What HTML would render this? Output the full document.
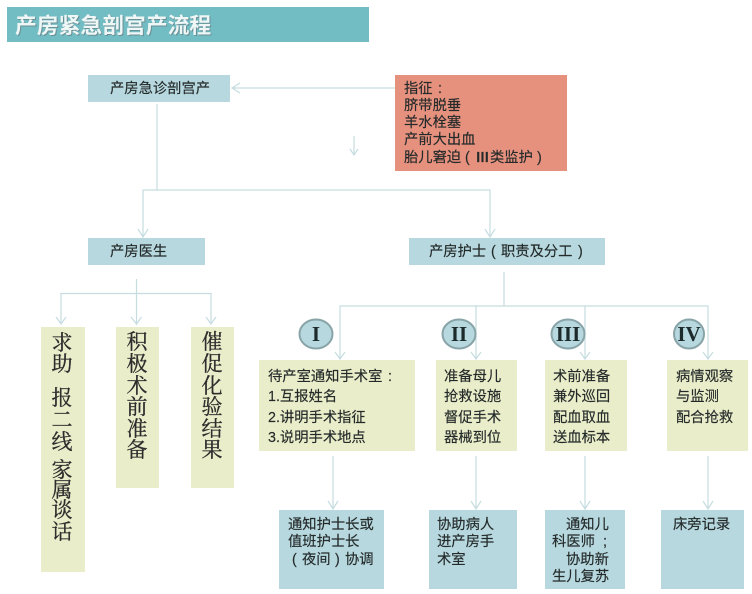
<!DOCTYPE html>
<html lang="zh"><head><meta charset="utf-8"><style>
html,body{margin:0;padding:0;background:#fff}
svg{display:block}
text{font-family:"Liberation Sans","Noto Sans CJK SC",sans-serif;font-size:14.3px;fill:#242a2a;stroke:#242a2a;stroke-width:.15}
.v text{font-family:"Liberation Serif","Noto Serif CJK SC",serif;font-size:21px;text-anchor:middle;fill:#2c2c2c;stroke:#2c2c2c;stroke-width:.3}
text.r{font-family:"Liberation Serif",serif;font-size:21px;font-weight:700;text-anchor:middle;fill:#1c2a2c;stroke:none}
.l{stroke:#c6dde0;stroke-width:1.2;fill:none}
</style></head><body>
<svg width="752" height="594" viewBox="0 0 752 594" xmlns="http://www.w3.org/2000/svg">
<defs><filter id="b" x="-5%" y="-5%" width="110%" height="110%"><feGaussianBlur stdDeviation=".3"/></filter></defs>
<rect width="752" height="594" fill="#fff"/>
<g filter="url(#b)">
<rect x="7" y="7" width="362" height="35" fill="#72bcc3"/>
<rect x="88" y="75" width="142" height="27" fill="#b6d8de"/>
<rect x="395" y="75" width="172" height="96" fill="#e6917e"/>
<rect x="88" y="238" width="117" height="27" fill="#b6d8de"/>
<rect x="409" y="238" width="196" height="27" fill="#b6d8de"/>
<rect x="41" y="327" width="44" height="245" fill="#e9edc9"/>
<rect x="116" y="327" width="43" height="161" fill="#e9edc9"/>
<rect x="191" y="327" width="43" height="161" fill="#e9edc9"/>
<rect x="259" y="360" width="156" height="91" fill="#e9edc9"/>
<rect x="436" y="360" width="81" height="91" fill="#e9edc9"/>
<rect x="545" y="360" width="82" height="91" fill="#e9edc9"/>
<rect x="667" y="360" width="81" height="91" fill="#e9edc9"/>
<rect x="279" y="510" width="105" height="79" fill="#b6d8de"/>
<rect x="429" y="510" width="88" height="79" fill="#b6d8de"/>
<rect x="545" y="510" width="80" height="79" fill="#b6d8de"/>
<rect x="661" y="510" width="83" height="79" fill="#b6d8de"/>
</g>
<g class="l">
<path d="M395 88H232M240 83l-8 5 8 5"/>
<path d="M354 136v19M350 149l4 6 4-6"/>
<path d="M157 104v86M143 237v-47H490v47M138 229l5 8 5-8M485 229l5 8 5-8"/>
<path d="M136.500 279v46M61 324V293.500H211V324M56 317l5 7 5-7M131 317l5.500 7 5-7M206 317l5 7 5-7"/>
<path d="M504 272v34M340 359V306H708V359M335 352l5 7 5-7M476 306v53M471 352l5 7 5-7M585 306v53M580 352l5 7 5-7M703 352l5 7 5-7"/>
<path d="M333 456v53M328 501l5 8 5-8M476 456v53M471 501l5 8 5-8M585 456v53M580 501l5 8 5-8M708 456v53M703 501l5 8 5-8"/>
</g>
<g fill="#b6d8de" stroke="#88a4a8" stroke-width="2">
<ellipse cx="316" cy="334" rx="16.500" ry="14.500"/>
<ellipse cx="459" cy="334" rx="16.500" ry="14.500"/>
<ellipse cx="568" cy="334" rx="16.500" ry="14.500"/>
<ellipse cx="689" cy="334" rx="15" ry="14.500"/>
</g>
<text class="r" x="316" y="341">I</text>
<text class="r" x="459" y="341">II</text>
<text class="r" x="568" y="341">III</text>
<text class="r" x="689" y="341">IV</text>
<text x="15" y="33" style="font-size:21.800px;font-weight:700;fill:#6a8f95;stroke:none" transform="translate(1 1)">产房紧急剖宫产流程</text>
<text x="15" y="33" style="font-size:21.800px;font-weight:700;fill:#eef6f6;stroke:none">产房紧急剖宫产流程</text>
<text x="110" y="93">产房急诊剖宫产</text>
<text x="404" y="93">指征<tspan x="438">:</tspan></text>
<text x="404" y="110">脐带脱垂</text>
<text x="404" y="127">羊水栓塞</text>
<text x="404" y="144">产前大出血</text>
<text x="404" y="162">胎儿窘迫<tspan x="465">(</tspan><tspan x="476" style="font-weight:700;font-size:13px">Ⅲ</tspan><tspan x="490">类监护</tspan><tspan x="537">)</tspan></text>
<text x="110" y="256">产房医生</text>
<text x="429" y="256">产房护士<tspan x="491">(</tspan><tspan x="501">职责及分工</tspan><tspan x="578">)</tspan></text>
<g class="v">
<text x="62" y="350">求</text><text x="62" y="371">助</text><text x="62" y="405">报</text><text x="62" y="427">二</text><text x="62" y="449">线</text><text x="62" y="477">家</text><text x="62" y="497">属</text><text x="62" y="517">谈</text><text x="62" y="539">话</text>
<text x="137" y="349">积</text><text x="137" y="371">极</text><text x="137" y="393">术</text><text x="137" y="414">前</text><text x="137" y="436">准</text><text x="137" y="457">备</text>
<text x="212" y="349">催</text><text x="212" y="371">促</text><text x="212" y="393">化</text><text x="212" y="414">验</text><text x="212" y="436">结</text><text x="212" y="457">果</text>
</g>
<text x="268" y="381">待产室通知手术室<tspan x="388">:</tspan></text>
<text x="268" y="401">1.互报姓名</text>
<text x="268" y="422">2.讲明手术指征</text>
<text x="268" y="442">3.说明手术地点</text>
<text x="444" y="381">准备母儿</text>
<text x="444" y="401">抢救设施</text>
<text x="444" y="422">督促手术</text>
<text x="444" y="442">器械到位</text>
<text x="553" y="381">术前准备</text>
<text x="553" y="401">兼外巡回</text>
<text x="553" y="422">配血取血</text>
<text x="553" y="442">送血标本</text>
<text x="676" y="381">病情观察</text>
<text x="676" y="401">与监测</text>
<text x="676" y="422">配合抢救</text>
<text x="288" y="529">通知护士长或</text>
<text x="288" y="546">值班护士长</text>
<text x="288" y="564"><tspan x="292">(</tspan><tspan x="302">夜间</tspan><tspan x="335">)</tspan><tspan x="345">协调</tspan></text>
<text x="437" y="529">协助病人</text>
<text x="437" y="546">进产房手</text>
<text x="437" y="564">术室</text>
<text x="566" y="529">通知儿</text>
<text x="552" y="546">科医师<tspan x="603">;</tspan></text>
<text x="566" y="564">协助新</text>
<text x="552" y="581">生儿复苏</text>
<text x="673" y="529">床旁记录</text>
</svg>
</body></html>
